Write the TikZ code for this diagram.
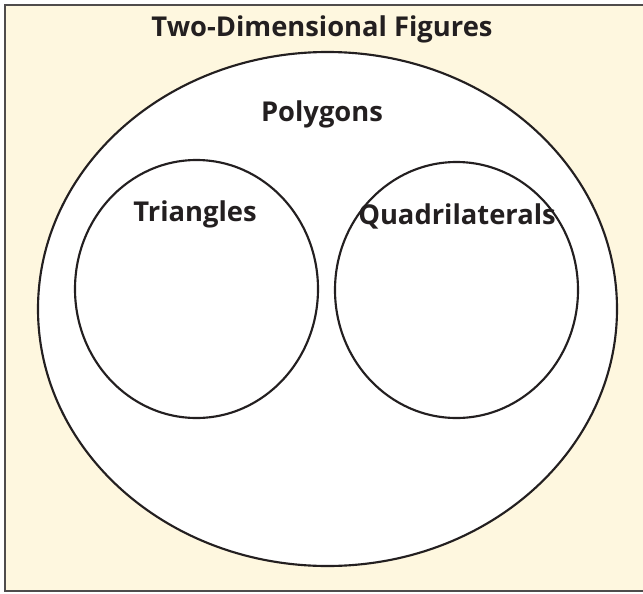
\documentclass[tikz,border=0pt]{standalone}
\usepackage{fontspec}
\usetikzlibrary{shapes.geometric}
\setmainfont{Open Sans}
\definecolor{cream}{HTML}{FEF7DF}
\definecolor{ink}{HTML}{231F20}
\tikzset{
  setline/.style={draw=ink, line width=1.6pt},
  lbl/.style={font=\bfseries\fontsize{20.5}{24}\selectfont, text=ink, inner sep=0pt},
}
\begin{document}
\begin{tikzpicture}[x=0.75pt,y=-0.75pt]
\useasboundingbox (0,0) rectangle (643,593);
\fill[white] (0,0) rectangle (643,593);
\fill[cream] (5,5) rectangle (643,591);
\draw[ink!80, line width=1.6pt] (643,5) -- (5,5) -- (5,591) -- (643,591);
\node[setline, fill=white, ellipse, minimum width=579*0.75pt, minimum height=514*0.75pt, inner sep=0pt] (poly) at (327.5,309) {};
\node[setline, ellipse, minimum width=243*0.75pt, minimum height=258*0.75pt, inner sep=0pt] (triset) at (196.5,289) {};
\node[setline, ellipse, minimum width=243*0.75pt, minimum height=256*0.75pt, inner sep=0pt] (quadset) at (456.5,290) {};
\node[lbl] (title) at (322,29) {Two-Dimensional Figures};
\node[lbl] (polylbl) at (322,114) {Polygons};
\node[lbl] (tri) at (195,214) {Triangles};
\node[lbl] (quad) at (457,216) {Quadrilaterals};
\end{tikzpicture}
\end{document}
